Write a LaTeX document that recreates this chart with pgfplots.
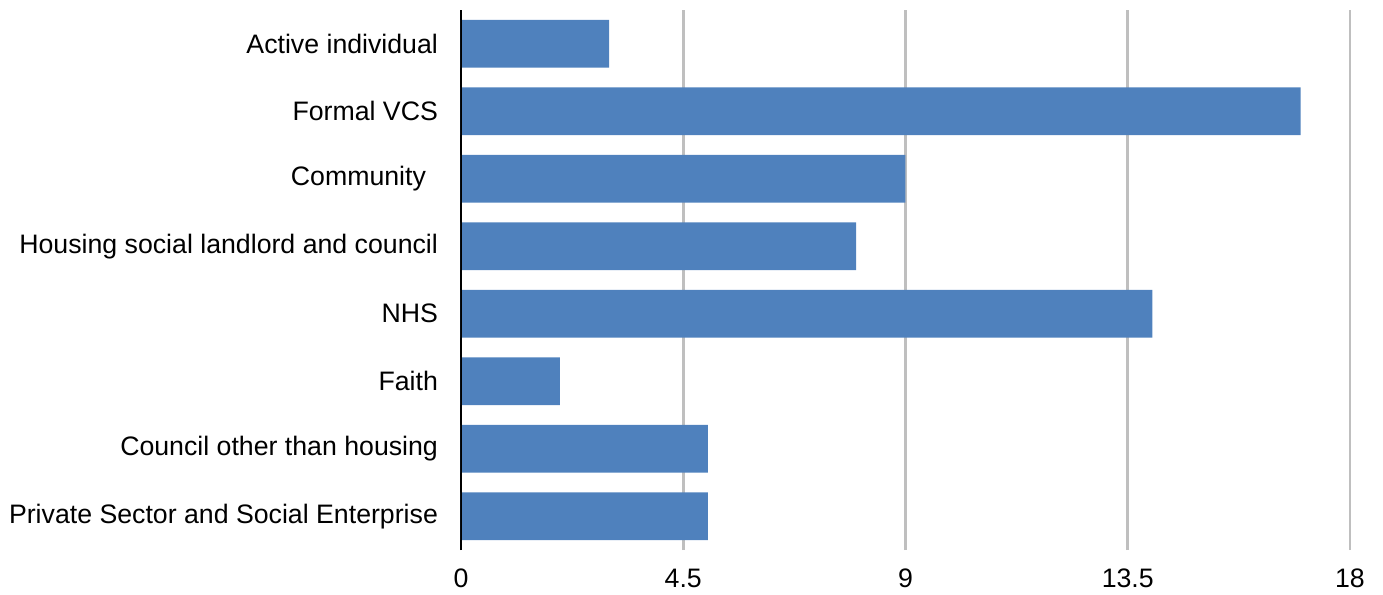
\documentclass[border=0pt]{standalone}
\usepackage{fontspec}
\setmainfont{Liberation Sans}
\usepackage{pgfplots}
\pgfplotsset{compat=1.18}
\definecolor{barblue}{HTML}{4F81BD}
\definecolor{gridgray}{HTML}{BFBFBF}
\begin{document}
\begin{tikzpicture}
\begin{axis}[
  at={(0,0)}, anchor=south west,
  scale only axis,
  width=444.5pt, height=270pt,
  xbar, bar width=0.71,
  xmin=0, xmax=18,
  ymin=-0.5, ymax=7.5,
  xtick={0,4.5,9,13.5,18},
  xticklabels={0,4.5,9,13.5,18},
  ytick={0,1,2,3,4,5,6,7},
  yticklabels={Private Sector and Social Enterprise, Council other than housing, Faith, NHS, Housing social landlord and council, Community\hspace*{6pt}, Formal VCS, Active individual},
  major tick length=0pt,
  xmajorgrids, grid style={gridgray, line width=1.3pt},
  axis x line*=bottom,
  x axis line style={draw=none},
  axis y line*=left,
  y axis line style={black, line width=1pt},
  /pgf/number format/assume math mode=true,
  tick label style={font=\fontsize{13.35}{16}\selectfont, text=black},
  xticklabel style={yshift=-6pt},
  yticklabel style={xshift=-8pt},
]
\addplot[fill=barblue, draw=none] coordinates {
  (5,0) (5,1) (2,2) (14,3) (8,4) (9,5) (17,6) (3,7)
};
\draw[black, line width=1pt] (axis cs:0,-0.5) -- (axis cs:0,7.5);
\end{axis}
\path[use as bounding box] (-230.5pt,-22.5pt) rectangle (461pt,275pt);
\end{tikzpicture}
\end{document}
